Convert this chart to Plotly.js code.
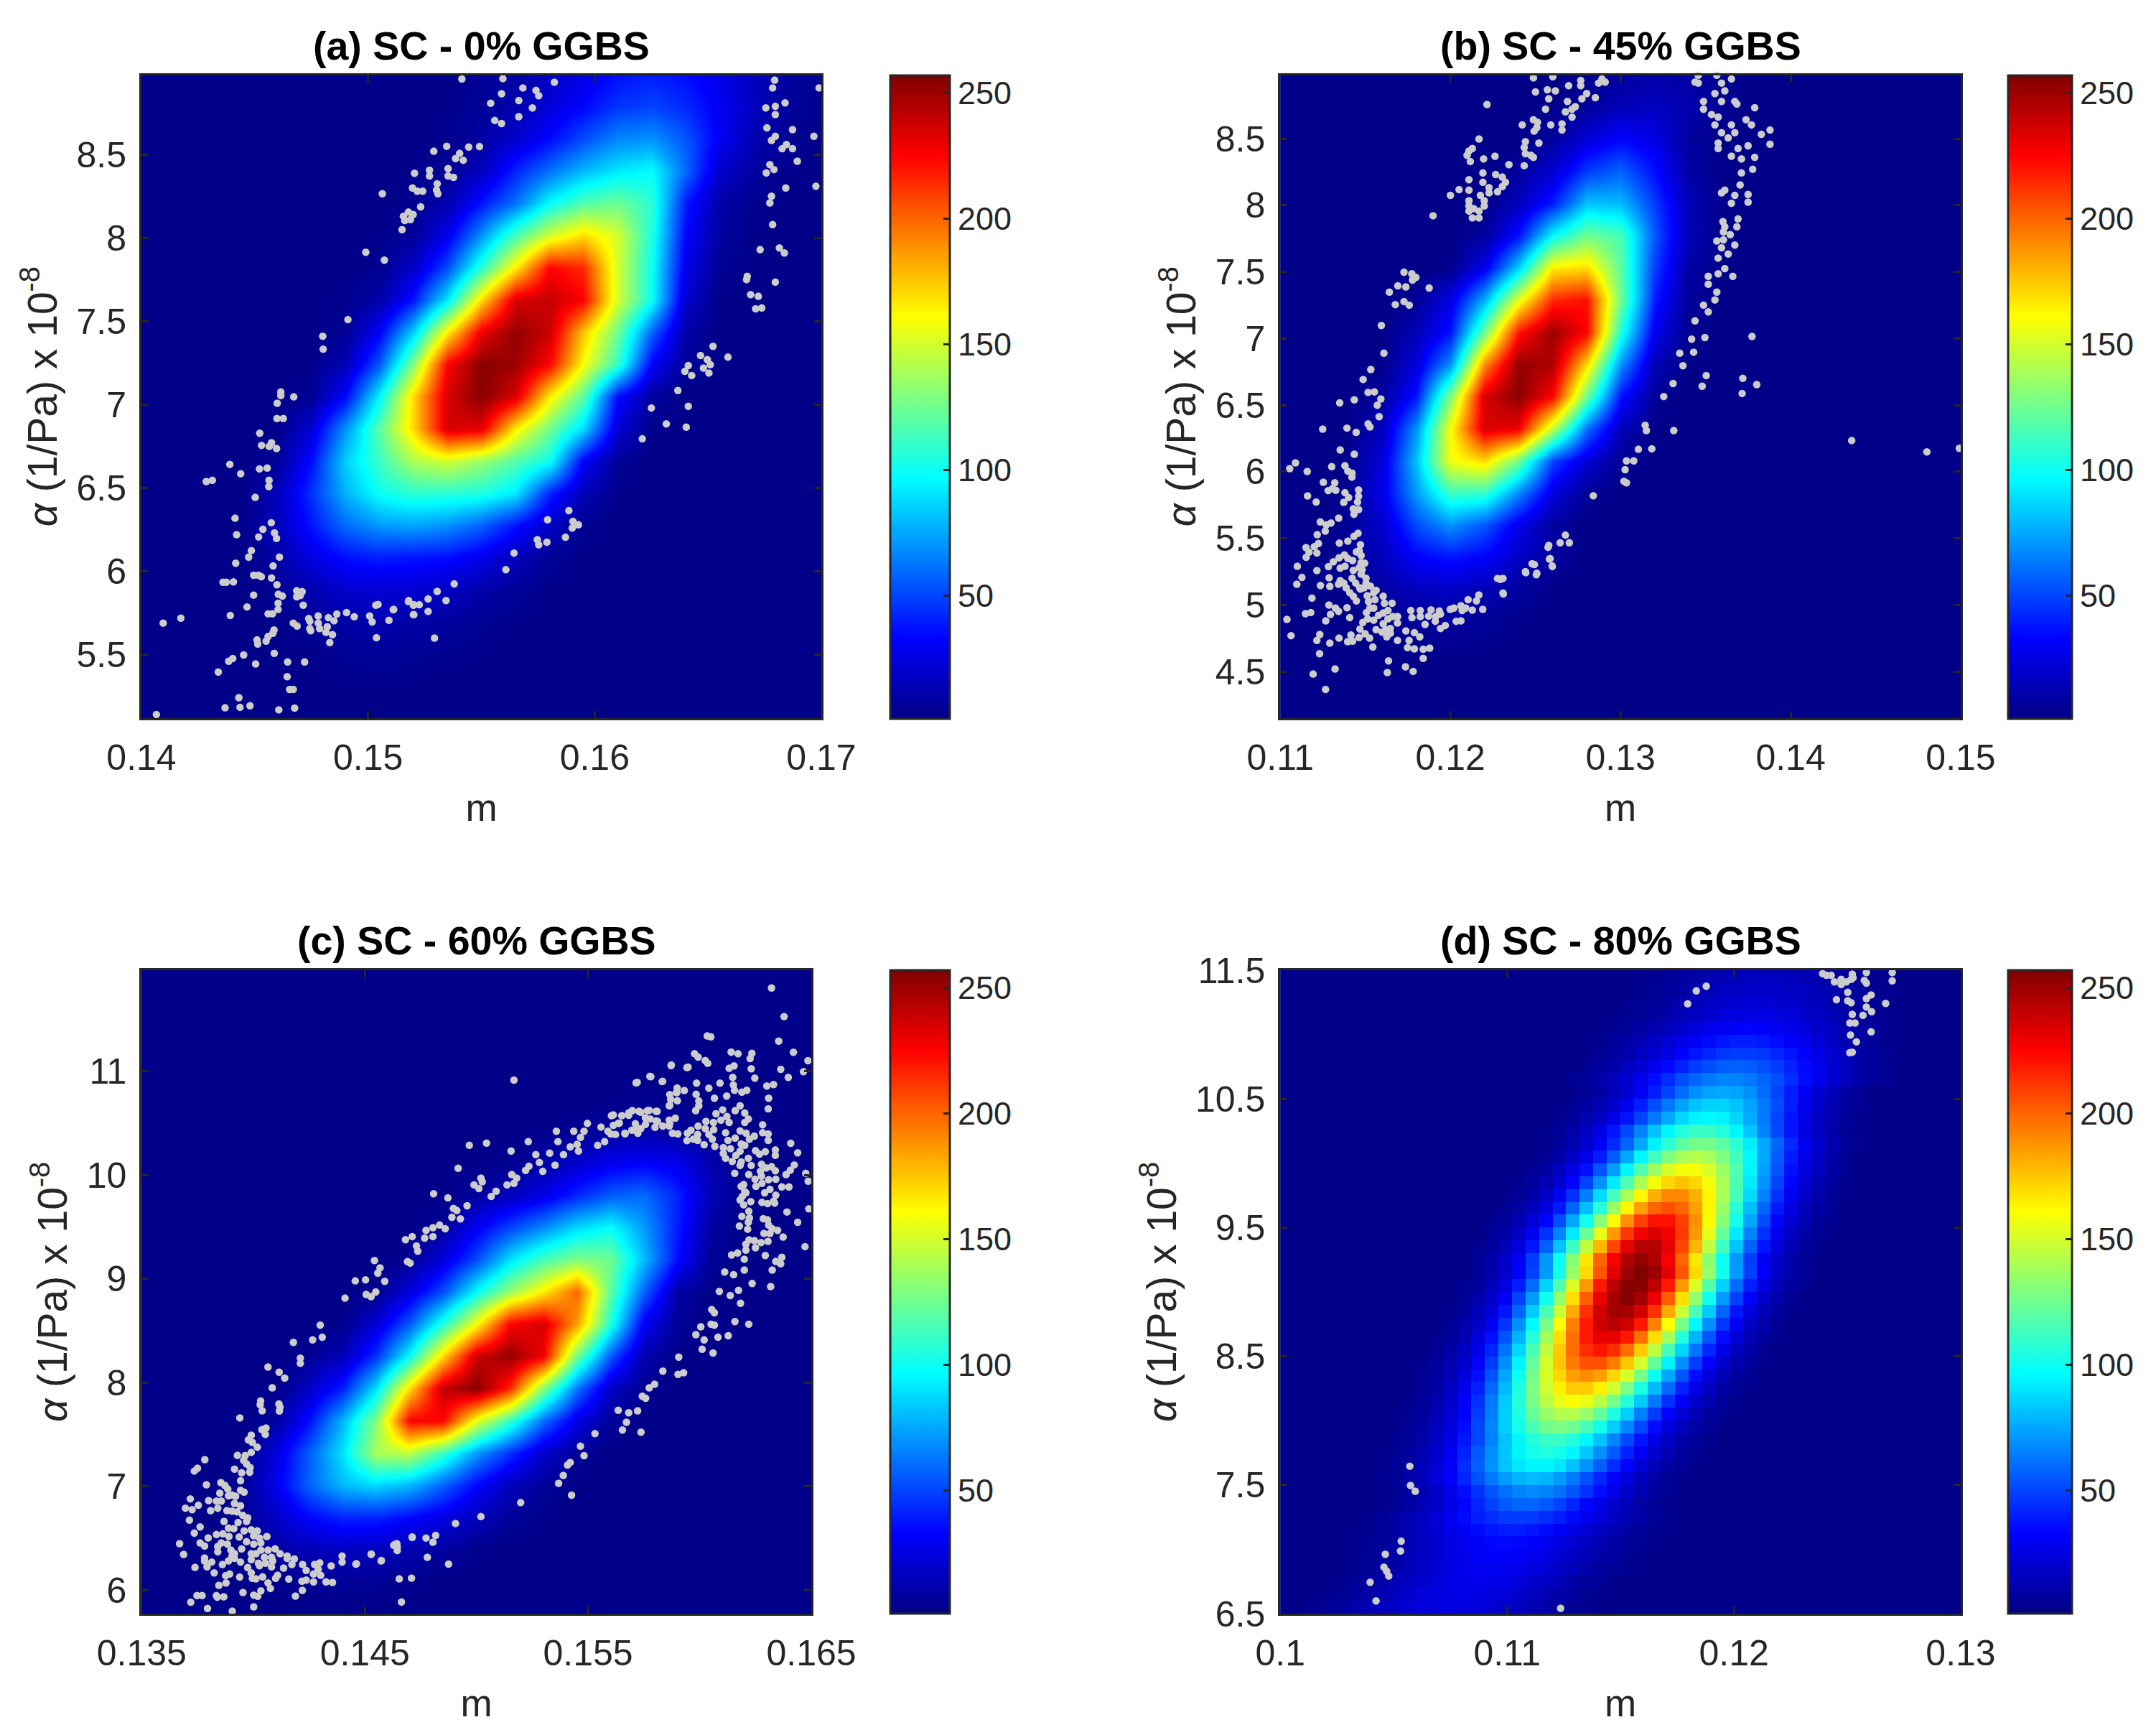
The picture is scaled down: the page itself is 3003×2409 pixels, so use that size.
<!DOCTYPE html>
<html><head><meta charset="utf-8">
<script src="https://cdn.plot.ly/plotly-3.0.1.min.js"></script>
<style>html,body{margin:0;padding:0;background:#fff}#chart{width:3003px;height:2409px}</style>
</head><body><div id="chart"></div>
<script>
// Density values, rows listed top to bottom.
const heatA=[
[2,2,2,2,2,2,2,2,2,2,5,9,17,26,36,40,36,27,15,8,4],
[2,2,2,2,2,2,2,2,2,3,6,12,23,34,46,50,43,30,16,7,3],
[2,2,2,2,2,2,2,2,2,4,9,20,35,52,67,70,55,30,13,5,2],
[2,2,2,2,2,2,2,2,3,6,16,42,62,80,92,98,60,20,8,3,2],
[2,2,2,2,2,2,2,2,4,12,38,62,98,118,125,108,40,10,4,2,2],
[2,2,2,2,2,2,2,3,7,28,70,115,150,170,150,105,34,8,3,2,2],
[2,2,2,2,2,2,2,4,18,52,108,165,225,215,150,100,28,5,2,2,2],
[2,2,2,2,2,2,4,10,38,92,170,235,240,225,150,100,20,3,2,2,2],
[2,2,2,2,2,2,5,32,85,165,230,252,238,175,125,58,10,2,2,2,2],
[2,2,2,2,2,3,14,55,130,225,255,250,224,160,110,32,6,2,2,2,2],
[2,2,2,2,2,5,34,95,170,235,255,235,165,120,36,8,2,2,2,2,2],
[2,2,2,2,3,22,70,120,170,235,232,165,125,88,22,3,2,2,2,2,2],
[2,2,2,2,6,36,85,112,140,150,135,118,100,32,6,2,2,2,2,2,2],
[2,2,2,2,16,45,78,100,108,108,105,92,42,14,3,2,2,2,2,2,2],
[2,2,2,3,16,38,60,72,75,70,58,38,18,5,2,2,2,2,2,2,2],
[2,2,2,2,10,25,36,40,38,36,28,15,6,2,2,2,2,2,2,2,2],
[2,2,2,2,5,12,20,22,21,17,11,6,3,2,2,2,2,2,2,2,2],
[2,2,2,2,3,6,10,12,10,8,5,3,2,2,2,2,2,2,2,2,2],
[2,2,2,2,2,3,5,6,5,4,3,2,2,2,2,2,2,2,2,2,2],
[2,2,2,2,2,2,3,3,3,2,2,2,2,2,2,2,2,2,2,2,2],
[2,2,2,2,2,2,2,2,2,2,2,2,2,2,2,2,2,2,2,2,2]];
const heatB=[
[2,2,2,2,2,2,2,2,2,4,8,10,8,4,2,2,2,2,2,2,2],
[2,2,2,2,2,2,2,2,3,7,14,17,12,5,2,2,2,2,2,2,2],
[2,2,2,2,2,2,2,2,8,22,34,26,8,2,2,2,2,2,2,2,2],
[2,2,2,2,2,2,2,8,20,48,58,36,10,2,2,2,2,2,2,2,2],
[2,2,2,2,2,2,3,15,40,82,80,48,14,3,2,2,2,2,2,2,2],
[2,2,2,2,2,2,8,36,96,125,115,55,14,2,2,2,2,2,2,2,2],
[2,2,2,2,2,3,28,85,165,170,120,48,10,2,2,2,2,2,2,2,2],
[2,2,2,2,6,26,78,155,215,222,125,40,6,2,2,2,2,2,2,2,2],
[2,2,2,2,14,38,125,220,250,225,105,28,4,2,2,2,2,2,2,2,2],
[2,2,2,3,24,70,190,252,245,170,70,14,2,2,2,2,2,2,2,2,2],
[2,2,2,8,38,130,235,255,225,125,38,6,2,2,2,2,2,2,2,2,2],
[2,2,2,16,70,160,235,228,145,62,15,2,2,2,2,2,2,2,2,2,2],
[2,2,3,24,82,158,170,125,50,22,5,2,2,2,2,2,2,2,2,2,2],
[2,2,4,28,72,112,110,68,25,6,2,2,2,2,2,2,2,2,2,2,2],
[2,2,6,20,52,70,55,28,8,2,2,2,2,2,2,2,2,2,2,2,2],
[2,2,5,16,32,38,32,18,8,2,2,2,2,2,2,2,2,2,2,2,2],
[2,2,3,9,15,18,14,8,3,2,2,2,2,2,2,2,2,2,2,2,2],
[2,2,2,4,7,8,6,3,2,2,2,2,2,2,2,2,2,2,2,2,2],
[2,2,2,2,3,3,3,2,2,2,2,2,2,2,2,2,2,2,2,2,2],
[2,2,2,2,2,2,2,2,2,2,2,2,2,2,2,2,2,2,2,2,2],
[2,2,2,2,2,2,2,2,2,2,2,2,2,2,2,2,2,2,2,2,2]];
const heatC=[
[2,2,2,2,2,2,2,2,2,2,2,2,2,2,2,2,2,2,2,2,2],
[2,2,2,2,2,2,2,2,2,2,2,2,2,2,2,2,2,2,2,2,2],
[2,2,2,2,2,2,2,2,2,2,2,2,2,2,2,2,2,2,2,2,2],
[2,2,2,2,2,2,2,2,2,2,2,2,2,2,2,2,2,2,2,2,2],
[2,2,2,2,2,2,2,2,2,2,2,2,2,2,3,4,3,2,2,2,2],
[2,2,2,2,2,2,2,2,2,2,2,2,3,5,8,10,8,4,2,2,2],
[2,2,2,2,2,2,2,2,2,2,2,4,10,20,28,32,28,12,3,2,2],
[2,2,2,2,2,2,2,2,2,2,8,16,26,42,56,60,42,14,3,2,2],
[2,2,2,2,2,2,2,2,2,7,30,50,68,88,98,72,40,9,2,2,2],
[2,2,2,2,2,2,2,2,5,24,52,90,115,130,125,80,36,6,2,2,2],
[2,2,2,2,2,2,2,3,24,52,98,135,165,200,120,58,10,2,2,2,2],
[2,2,2,2,2,2,3,22,55,105,160,225,235,185,105,30,6,2,2,2,2],
[2,2,2,2,2,5,14,45,98,170,238,252,228,125,55,12,2,2,2,2,2],
[2,2,2,2,2,18,40,90,170,240,255,215,130,62,18,4,2,2,2,2,2],
[2,2,2,2,8,36,78,130,225,225,155,110,60,26,6,2,2,2,2,2,2],
[2,2,2,2,24,56,90,140,145,112,72,45,20,6,2,2,2,2,2,2,2],
[2,2,2,4,28,58,80,88,80,58,34,16,6,2,2,2,2,2,2,2,2],
[2,2,2,5,18,34,42,42,35,26,15,7,3,2,2,2,2,2,2,2,2],
[2,2,2,3,9,14,17,16,12,8,4,2,2,2,2,2,2,2,2,2,2],
[2,2,2,2,3,5,6,5,4,2,2,2,2,2,2,2,2,2,2,2,2],
[2,2,2,2,2,2,2,2,2,2,2,2,2,2,2,2,2,2,2,2,2]];
// Panel (d) has coarse cells: each row lists its non-background run and where it starts.
const heatDStart=[24,24,23,23,23,22,22,22,21,20,19,19,18,18,18,17,17,16,16,15,15,14,14,14,13,13,12,12,11,11,10,10,9,9,8,8,7,7,6,6,6,5,6,5,5,4,4,3,2,1];
const heatDRuns=[
[2,2,3,4,6,8,10,12,13,15,16,16,16,15,13,12,10,8,6,4,3,2,2],
[2,3,4,5,7,9,12,14,16,17,19,19,19,17,16,14,12,9,7,5,4,3,2],
[2,2,4,5,7,9,12,15,17,19,21,22,22,21,19,17,15,12,9,7,5,4,2,2],
[2,3,4,6,8,11,14,17,20,23,25,26,26,25,23,20,17,14,11,8,6,4,3,2],
[3,4,7,9,12,16,20,24,28,30,32,33,32,30,28,24,20,16,12,9,7,4,3],
[3,4,7,9,13,17,22,27,31,35,38,40,40,38,35,31,27,22,17,13,9,7,4,3],
[3,5,8,11,16,21,26,32,38,42,46,48,48,46,42,38,32,26,21,16,11,8,5,3],
[5,8,11,16,21,28,35,41,48,52,56,57,56,52,48,41,35,28,21,16,11,8,5],
[5,7,11,16,21,28,36,44,52,58,63,66,66,63,58,52,44,36,28,21,16,11,7,5],
[2,3,6,9,15,21,30,40,50,60,69,74,76,74,69,60,50,40,30,21,15,9,6,3,2],
[2,3,5,8,13,20,29,40,52,63,74,82,86,86,82,74,63,52,40,29,20,13,8,5,3,2],
[2,4,7,12,18,27,38,50,63,76,87,94,96,94,87,76,63,50,38,27,18,12,7,4,2],
[2,4,6,11,17,26,38,51,66,82,95,106,111,111,106,95,82,66,51,38,26,17,11,6,4,2],
[2,4,7,12,20,30,43,58,75,93,108,120,126,126,120,108,93,75,58,43,30,20,12,7,4,2],
[3,6,11,18,27,40,56,75,95,113,129,139,143,139,129,113,95,75,56,40,27,18,11,6,3],
[3,5,9,16,25,37,54,73,95,117,136,151,159,159,151,136,117,95,73,54,37,25,16,9,5,3],
[4,8,13,22,34,50,70,92,116,140,159,171,176,171,159,140,116,92,70,50,34,22,13,8,4],
[3,6,11,19,30,45,65,88,114,140,163,181,191,191,181,163,140,114,88,65,45,30,19,11,6,3],
[5,9,15,25,39,58,81,107,136,163,185,200,205,200,185,163,136,107,81,58,39,25,15,9,5],
[4,7,13,22,34,52,75,102,132,162,189,209,221,221,209,189,162,132,102,75,52,34,22,13,7,4],
[6,10,18,29,45,66,92,123,155,186,211,228,234,228,211,186,155,123,92,66,45,29,18,10,6],
[4,8,14,24,38,57,82,112,145,179,208,231,244,244,231,208,179,145,112,82,57,38,24,14,8,4],
[6,11,19,31,48,71,100,132,167,200,227,245,252,245,227,200,167,132,100,71,48,31,19,11,6],
[6,11,19,32,49,72,102,135,170,204,232,250,257,250,232,204,170,135,102,72,49,32,19,11,6],
[5,8,15,25,40,60,86,118,152,187,219,242,255,255,242,219,187,152,118,86,60,40,25,15,8,5],
[6,11,19,31,49,72,101,134,169,202,230,248,255,248,230,202,169,134,101,72,49,31,19,11,6],
[4,8,14,24,38,58,84,115,148,182,213,236,248,248,236,213,182,148,115,84,58,38,24,14,8,4],
[6,11,18,30,46,69,96,127,161,193,219,237,243,237,219,193,161,127,96,69,46,30,18,11,6],
[4,8,13,23,36,54,78,106,138,169,197,219,231,231,219,197,169,138,106,78,54,36,23,13,8,4],
[5,10,16,27,42,62,87,115,145,174,198,214,220,214,198,174,145,115,87,62,42,27,16,10,5],
[4,7,12,20,32,48,69,94,122,150,175,194,205,205,194,175,150,122,94,69,48,32,20,12,7,4],
[5,8,14,23,36,54,75,100,126,151,171,185,190,185,171,151,126,100,75,54,36,23,14,8,5],
[3,6,10,17,27,41,59,80,104,128,149,165,174,174,165,149,128,104,80,59,41,27,17,10,6,3],
[4,7,12,20,31,45,63,84,106,127,144,156,160,156,144,127,106,84,63,45,31,20,12,7,4],
[3,5,8,14,22,33,48,65,85,104,122,135,142,142,135,122,104,85,65,48,33,22,14,8,5,3],
[3,6,10,16,24,36,51,67,85,102,115,125,128,125,115,102,85,67,51,36,24,16,10,6,3],
[2,4,6,11,17,26,38,51,66,82,95,106,111,111,106,95,82,66,51,38,26,17,11,6,4,2],
[3,5,8,13,20,30,41,55,69,83,95,102,105,102,95,83,69,55,41,30,20,13,8,5,3],
[2,3,6,9,15,22,32,44,57,70,82,91,95,95,91,82,70,57,44,32,22,15,9,6,3,2],
[2,4,6,10,15,23,32,42,53,63,72,78,80,78,72,63,53,42,32,23,15,10,6,4,2],
[2,3,5,8,13,19,27,36,45,54,61,66,68,66,61,54,45,36,27,19,13,8,5,3,2],
[2,2,3,6,9,14,19,27,34,42,49,55,58,58,55,49,42,34,27,19,14,9,6,3,2,2],
[4,6,10,13,18,23,29,35,40,44,47,48,47,44,40,35,29,23,18,13,10,6,4],
[3,4,7,9,13,17,22,27,31,35,38,40,40,38,35,31,27,22,17,13,9,7,4,3],
[3,5,7,10,13,17,21,25,29,32,34,35,34,32,29,25,21,17,13,10,7,5,3],
[2,4,5,8,10,14,17,21,25,28,31,32,32,31,28,25,21,17,14,10,8,5,4,2],
[3,4,6,8,11,15,18,22,25,28,29,30,29,28,25,22,18,15,11,8,6,4,3],
[2,4,6,8,10,14,17,20,23,26,27,28,27,26,23,20,17,14,10,8,6,4,2],
[2,4,5,8,10,13,16,20,23,25,26,27,26,25,23,20,16,13,10,8,5,4,2],
[2,4,5,7,10,13,16,19,22,24,25,26,25,24,22,19,16,13,10,7,5,4,2]];

// Scatter dots: [m, alpha].
const dotsA=[[.16794,8.947],[.1699,8.98],[.1699,8.9],[.16785,8.9],[.1684,8.81],[.16797,8.79],[.16755,8.78],[.16797,8.74],[.1676,8.66],[.16873,8.65],[.16797,8.61],[.16967,8.61],[.1678,8.585],[.16846,8.56],[.16827,8.535],[.16873,8.535],[.16894,8.46],[.16773,8.44],[.16791,8.41],[.16757,8.39],[.16843,8.3],[.16976,8.31],[.1678,8.25],[.16773,8.21],[.16785,8.08],[.16815,7.94],[.16837,7.91],[.1673,7.93],[.16797,7.735],[.16673,7.77],[.1667,7.75],[.16688,7.66],[.16722,7.65],[.1671,7.575],[.16737,7.58],
[.16522,7.35],[.16588,7.285],[.16467,7.295],[.16497,7.27],[.16413,7.235],[.16398,7.2],[.1648,7.22],[.1651,7.24],[.16504,7.19],[.16428,7.175],[.16367,7.085],[.16413,6.99],[.1625,6.98],[.16316,6.885],[.16404,6.865],[.1621,6.795],
[.15886,6.365],[.15792,6.31],[.15904,6.3],[.15928,6.28],[.15901,6.26],[.15871,6.205],[.15747,6.19],[.15753,6.16],[.15789,6.175],[.15644,6.11],[.15608,6.01],
[.1538,5.925],[.15305,5.88],[.15265,5.835],[.15344,5.825],[.15178,5.82],[.15202,5.8],[.15226,5.8],[.15111,5.77],[.15265,5.76],[.15202,5.74],[.15293,5.6],
[.14615,7.076],[.14615,7.055],[.14672,7.047],[.14599,7.009],[.14598,6.917],[.14626,6.917],[.14522,6.829],[.1453,6.756],[.14574,6.772],[.14564,6.75],[.14596,6.737],[.1439,6.642],[.14438,6.586],[.14521,6.615],[.14555,6.62],[.14286,6.539],[.14313,6.547],[.14563,6.547],[.14562,6.509],[.14502,6.444],[.14413,6.319],[.14573,6.292],[.14536,6.253],[.1442,6.22],[.14587,6.231],[.14517,6.207],[.14596,6.198],[.14485,6.125],[.14473,6.086],[.14609,6.086],[.14416,6.049],[.14581,6.033],[.14495,5.977],[.14516,5.977],[.14529,5.968],[.14574,5.961],[.1436,5.935],[.14374,5.935],[.14406,5.937],[.14598,5.92],[.14685,5.884],[.14709,5.879],[.14685,5.848],[.14701,5.855],[.14604,5.863],[.14622,5.852],[.14495,5.858],[.14603,5.809],[.14714,5.797],[.14466,5.787],[.14603,5.772],[.14559,5.746],[.14578,5.746],[.14392,5.736],[.1478,5.733],[.14738,5.718],[.14743,5.701],[.14825,5.723],[.14862,5.744],[.1485,5.704],[.14905,5.753],[.14939,5.728],[.15007,5.733],[.15018,5.697],[.15034,5.797],[.15044,5.802],[.15113,5.772],[.15092,5.707],[.15037,5.602],[.15179,5.825],[.152,5.797],[.152,5.741],[.14096,5.69],[.14174,5.72],[.1467,5.69],[.14687,5.672],[.14743,5.657],[.14747,5.644],[.1478,5.69],[.14786,5.657],[.1482,5.668],[.14814,5.635],[.14843,5.621],[.14831,5.573],[.14585,5.649],[.1458,5.629],[.14559,5.61],[.1451,5.589],[.14513,5.565],[.1455,5.582],[.14586,5.509],[.14451,5.499],[.14403,5.478],[.14385,5.461],[.14504,5.445],[.14645,5.457],[.1472,5.457],[.14339,5.397],[.14643,5.369],[.14654,5.292],[.1467,5.292],[.1443,5.243],[.14369,5.182],[.14435,5.185],[.14479,5.194],[.14606,5.17],[.14676,5.18],[.14066,5.142],[.14444,5.118],[.14725,5.118],
[.14802,7.333],[.148,7.41],[.14911,7.51],[.15072,7.867],[.1499,7.914],[.1515,8.05],[.15156,8.13],[.15178,8.155],[.15199,8.14],[.15162,8.105],[.15187,8.11],[.15232,8.187],[.15196,8.3],[.15217,8.28],[.15241,8.28],[.15308,8.265],[.15302,8.287],[.15305,8.325],[.15063,8.265],[.15205,8.388],[.15271,8.406],[.15271,8.372],[.15353,8.372],[.15377,8.363],[.15353,8.416],[.1529,8.52],[.15347,8.55],[.15386,8.476],[.15404,8.507],[.1542,8.466],[.15444,8.545],[.15492,8.548],
[.15414,8.953],[.15632,8.984],[.15595,8.956],[.15732,8.978],[.15822,8.934],[.15683,8.9],[.15589,8.865],[.15741,8.885],[.15753,8.853],[.15665,8.824],[.15541,8.808],[.15725,8.78],[.15665,8.727],[.15559,8.705],[.15589,8.686]];
const dotsB=[[.11532,6.768],[.11487,6.693],[.11516,6.596],[.11553,6.6],[.11591,6.547],[.1157,6.5],[.11349,6.517],[.11435,6.54],[.11581,6.414],[.11516,6.36],[.11527,6.337],[.11392,6.328],[.11446,6.296],[.11249,6.321],[.11352,6.164],[.11435,6.132],[.11089,6.067],[.11055,6.024],[.11158,6.003],[.11302,6.039],[.1138,6.046],[.11397,6.005],[.11422,5.99],[.11421,5.96],[.11253,5.922],[.1132,5.918],[.11326,5.861],[.11281,5.859],[.11307,5.875],[.1146,5.864],[.1146,5.816],[.11454,5.773],[.1138,5.843],[.11401,5.807],[.11373,5.771],[.1116,5.819],[.11211,5.773],[.1146,5.717],[.11429,5.722],[.11433,5.681],[.11343,5.652],[.11235,5.624],[.11298,5.616],[.1127,5.602],[.11264,5.555],[.11457,5.539],[.11433,5.516],[.11217,5.528],[.11397,5.48],[.11347,5.465],[.11471,5.453],[.11464,5.408],[.11447,5.399],[.11475,5.372],[.11224,5.462],[.112,5.438],[.11151,5.431],[.11169,5.397],[.11215,5.39],[.11152,5.358],[.11377,5.376],[.11345,5.354],[.11312,5.325],[.11397,5.349],[.11425,5.334],[.11475,5.318],[.11496,5.314],[.11464,5.282],[.11481,5.264],[.11475,5.232],[.1138,5.291],[.11352,5.277],[.11283,5.288],[.11429,5.26],[.111,5.291],[.11215,5.259],[.11127,5.207],[.11097,5.156],[.11287,5.205],[.11291,5.14],[.11236,5.147],[.11352,5.183],[.11342,5.156],[.11373,5.165],[.11387,5.129],[.11422,5.201],[.11443,5.165],[.11467,5.129],[.11504,5.201],[.11504,5.165],[.11471,5.12],[.11492,5.129],[.1153,5.142],[.11563,5.111],[.11549,5.093],[.11408,5.093],[.11429,5.066],[.11447,5.031],[.11186,5.052],[.11511,5.07],[.11518,5.027],[.11556,5.04],[.11605,5.066],[.11612,5.013],[.11657,5.013],[.11549,4.977],[.11527,4.977],[.11286,5],[.11324,4.977],[.11342,4.953],[.11392,4.98],[.11148,4.935],[.11179,4.944],[.11295,4.93],[.11039,4.892],[.11408,4.905],[.11267,4.881],
[.11506,4.944],[.11513,4.896],[.11485,4.869],[.11549,4.887],[.11577,4.923],[.11605,4.941],[.11633,4.959],[.11633,4.896],[.11661,4.914],[.11689,4.914],[.11689,4.865],[.11605,4.86],[.1162,4.815],[.11647,4.824],[.11647,4.788],[.11563,4.815],[.11598,4.797],[.11626,4.761],[.11468,4.819],[.11499,4.784],[.11525,4.752],[.11463,4.756],[.11415,4.775],[.11396,4.725],[.11425,4.729],[.11345,4.752],[.11291,4.714],[.11232,4.779],[.11215,4.734],[.11063,4.77],[.11544,4.684],[.11689,4.734],[.11738,4.806],[.11788,4.793],[.1182,4.761],[.11757,4.734],[.11748,4.68],[.11788,4.671],[.1184,4.668],[.11878,4.677],[.1184,4.6],[.11636,4.581],[.11736,4.536],[.11629,4.493],[.11781,4.502],[.11231,4.635],[.11322,4.52],[.11193,4.482],[.11266,4.366],[.11193,4.145],
[.11767,4.959],[.11823,4.959],[.11774,4.905],[.11823,4.914],[.11886,4.964],[.11872,4.917],[.11935,4.955],[.11914,4.914],[.11942,4.932],[.11851,4.854],[.11911,4.878],[.11999,4.968],[.1202,4.977],[.12062,4.995],[.12069,4.959],[.1209,4.977],[.12104,5.04],[.12167,5.075],[.12153,5.031],[.12129,4.962],[.1219,4.968],[.11942,4.824],[.1197,4.847],[.12034,4.878],[.12062,4.881],[.12294,5.192],[.12311,5.083],[.12443,5.243],[.12505,5.228],[.12494,5.304],[.12582,5.345],[.12599,5.289],[.12574,5.433],
[.11898,7.922],[.12,8.075],[.12051,8.118],[.12109,8.114],[.12109,8.035],[.12109,7.996],[.12137,7.976],[.12168,7.957],[.12109,7.957],[.12129,7.906],[.12168,7.906],[.12199,7.996],[.12199,8.035],[.12176,8.075],[.12227,8.133],[.12227,8.094],[.12277,8.102],[.12266,8.231],[.12305,8.212],[.12324,8.173],[.12305,8.141],[.12191,8.243],[.12191,8.173],[.12109,8.192],[.12109,8.408],[.12129,8.427],[.12098,8.376],[.12117,8.329],[.12195,8.349],[.12262,8.369],[.12344,8.306],[.12168,8.498],[.12215,8.757],[.12434,8.298],[.12441,8.388],[.12473,8.376],[.12488,8.361],[.12441,8.478],[.12434,8.435],[.1252,8.467],[.12422,8.604],[.12488,8.643],[.12512,8.624],[.12492,8.557],[.12508,8.584],[.1259,8.604],[.12656,8.612],[.12656,8.565],[.12715,8.663],[.12734,8.741],[.12688,8.78],[.12559,8.722],[.12578,8.8],[.12617,8.859],[.1257,8.867],[.125,8.851],[.12488,8.957],[.12602,8.965],[.12695,8.898],[.12766,8.937],[.12766,8.898],[.12801,8.839],[.12773,8.8],[.12852,8.808],[.12871,8.918],[.12891,8.949],[.12863,8.996],[.1291,8.925],[.12715,8.722],[.12676,8.702],
[.13457,8.976],[.13457,8.918],[.13438,8.925],[.13566,8.976],[.13594,8.918],[.13652,8.949],[.13691,8.996],[.13488,8.78],[.13488,8.722],[.13555,8.839],[.13613,8.859],[.13672,8.78],[.13594,8.78],[.13535,8.682],[.13574,8.663],[.13684,8.761],[.13789,8.733],[.13738,8.643],[.13555,8.604],[.13652,8.604],[.1377,8.604],[.13828,8.533],[.13879,8.565],[.13594,8.545],[.13672,8.545],[.13574,8.467],[.13633,8.506],[.1375,8.447],[.13691,8.427],[.13574,8.427],[.13652,8.369],[.13711,8.349],[.13789,8.361],[.13777,8.271],[.13711,8.243],[.13879,8.459],[.13613,8.114],[.13594,8.094],[.13703,8.153],[.13672,8.075],[.13652,8.016],[.1375,8.082],[.1375,8.024],[.13602,7.878],[.13613,7.839],[.13691,7.898],[.13684,7.839],[.13605,7.8],[.13645,7.78],[.13605,7.741],[.13566,7.733],[.13594,7.682],[.13672,7.702],[.13574,7.604],[.13633,7.635],[.13613,7.525],[.1366,7.467],[.13516,7.467],[.13574,7.486],[.13516,7.408],[.13566,7.349],[.13555,7.29],[.13488,7.251],[.13516,7.2],[.13438,7.133],[.13418,6.996],[.13496,7.008],[.13348,6.89],[.1343,6.898],[.13367,6.796],[.13309,6.663],[.13504,6.722],[.1348,6.643],[.13254,6.565],[.13719,6.702],[.13715,6.588],[.13801,6.655],[.13773,7.016],
[.13145,6.349],[.13152,6.31],[.13105,6.169],[.13184,6.173],[.13313,6.31],[.13035,6.082],[.13078,6.082],[.13027,6.016],[.1302,5.929],[.13035,5.918],[.1284,5.82],[.12676,5.525],[.12645,5.467],[.12699,5.467],[.12578,5.447],[.12586,5.349],[.1248,5.31],[.12598,5.294],[.12441,5.251],[.12508,5.239],[.12277,5.2],[.12309,5.2],[.12309,5.09],[.14359,6.235],[.14801,6.149],[.14992,6.176],
[.11594,7.098],[.11609,6.89],[.11641,7.349],[.11691,7.396],[.11727,7.498],[.11773,7.486],[.11797,7.459],[.11738,7.388],[.11777,7.439],[.11727,7.278],[.11676,7.255],[.11758,7.251],[.11875,7.38]];
const dotsC=[[.14066,8.151],[.14116,8.1],[.14141,8.043],[.14085,7.95],[.14033,7.824],[.14031,7.787],[.1404,7.729],[.14115,7.794],[.1412,7.764],[.14117,7.727],[.1394,7.66],[.14057,7.563],[.14039,7.547],[.14054,7.501],[.13991,7.494],[.13978,7.448],[.13996,7.424],[.14018,7.378],[.13991,7.328],[.13964,7.298],[.13929,7.3],[.13957,7.251],[.1397,7.217],[.13986,7.182],[.13984,7.136],[.13948,7.131],[.13916,7.166],[.13783,7.258],[.1375,7.175],[.13736,7.148],[.13943,7.055],[.1379,7.016],[.13855,7.037],[.13873,7.009],[.13886,6.975],[.1385,6.935],[.13905,6.917],[.13889,6.91],[.13921,6.905],[.13943,6.963],[.13959,6.945],[.13718,6.88],[.138,6.864],[.13835,6.859],[.13857,6.859],[.13754,6.818],[.13696,6.79],[.13726,6.776],[.13809,6.767],[.13841,6.79],[.13882,6.767],[.13916,6.836],[.13943,6.813],[.13905,6.762],[.13927,6.755],[.13953,6.721],[.13975,6.698],[.1397,6.663],[.13932,6.652],[.13869,6.663],[.13714,6.675],[.13762,6.61],[.13736,6.55],[.13889,6.599],[.13913,6.594],[.13991,6.582],[.13959,6.571],[.13937,6.513],[.14018,6.571],[.14028,6.502],[.14061,6.518],[.14002,6.525],[.13835,6.536],[.13864,6.543],[.13891,6.518],[.13798,6.504],[.1367,6.449],[.13762,6.456],[.13782,6.426],[.1397,6.467],[.14002,6.444],[.14034,6.456],[.13857,6.456],[.13841,6.421],[.13841,6.37],[.13884,6.444],[.139,6.386],[.13948,6.398],[.13916,6.352],[.13688,6.345],[.13782,6.31],[.13782,6.283],[.13814,6.271],[.13793,6.225],[.13739,6.22],[.13862,6.248],[.13889,6.283],[.13916,6.306],[.13943,6.271],[.13905,6.329],[.13991,6.352],[.14012,6.352],[.14034,6.386],[.14066,6.386],[.14098,6.398],[.1412,6.352],[.13991,6.294],[.14023,6.26],[.1405,6.317],[.14082,6.317],[.14082,6.225],[.14028,6.236],[.14055,6.26],[.14087,6.283],[.14152,6.329],[.14184,6.301],[.14173,6.248],[.14136,6.213],[.14152,6.306],[.13975,6.218],[.13991,6.167],[.13825,6.167],[.13894,6.156],[.13876,6.14],[.13939,6.126],[.13996,6.114],[.14012,6.11],[.14042,6.128],[.14109,6.144],[.141,6.114],[.14159,6.107],[.14221,6.248],[.14237,6.19],[.1427,6.156],[.14275,6.248],[.14298,6.264],[.14291,6.202],[.14302,6.144],[.14349,6.234],[.14398,6.329],[.14398,6.271],[.14462,6.255],[.14529,6.347],[.14573,6.283],[.14629,6.433],[.14643,6.449],[.14645,6.382],[.14712,6.509],[.14654,6.11],[.14709,6.117],[.14664,5.886],[.14218,6.087],[.14237,6.098],[.1427,6.08],[.14326,6.08],[.14355,6.075],[.14066,6.07],[.14077,6.017],[.1422,5.999],[.14189,5.943],[.13846,6.047],[.13878,6.07],[.13954,5.978],[.14034,5.994],[.14002,5.953],[.1402,5.941],[.13748,5.948],[.13771,5.948],[.13835,5.948],[.13839,5.932],[.13868,5.937],[.1372,5.884],[.13795,5.824],[.13906,5.798],[.14002,5.84],[.13993,5.77],[.14047,5.77],
[.1418,8.387],[.14211,8.236],[.14211,8.186],[.14266,8.412],[.14309,8.437],[.143,8.553],[.14411,8.814],[.14457,8.98],[.14503,8.99],[.14506,8.849],[.14528,8.829],[.14549,8.874],[.14543,9.176],[.14558,9.055],[.14568,9.106],[.14589,8.975],[.14682,9.377],[.14712,9.407],[.14731,9.317],[.14737,9.266],[.14691,9.166],[.14703,9.151],[.14774,9.467],[.14805,9.492],[.14835,9.518],[.14768,9.392],[.14805,9.407],[.1486,9.482],[.14808,9.819],[.14872,9.779],[.14897,9.678],[.14912,9.658],[.1489,9.593],[.14928,9.578],[.14958,9.704],[.14918,10.065],[.14968,10.286],[.15045,10.307],[.14989,9.905],[.1502,9.97],[.15026,9.935],[.15011,9.869],[.15066,9.794],[.15088,9.844],[.15137,9.905],[.15168,9.92],[.1518,9.97],[.15158,10.005],[.1522,10.045],[.15235,10.085],[.15282,10.121],[.15266,10.196],[.15328,10.211],[.15352,10.095],[.15297,10.035],[.15155,10.231],[.15232,10.322],[.15168,10.915],[.15358,10.422],[.15365,10.322],[.1539,10.196],[.1542,10.271],[.15451,10.296],[.15436,10.422],[.15482,10.422],[.15497,10.497],[.15466,10.362],[.15457,10.231],[.15574,10.322],[.15589,10.422],[.15543,10.286],[.15558,10.462],[.15605,10.572],[.15635,10.497],[.15666,10.397],[.15712,10.432],[.15682,10.598],[.15651,10.572],[.15728,10.613],[.15758,10.548],[.15805,10.522],[.15835,10.472],[.15866,10.497],[.15774,10.623],[.15805,10.613],[.15715,10.889],[.15777,10.95],[.15832,10.9],[.15866,10.673],[.15897,10.799],[.15866,10.774],[.15872,11.055],[.15943,11.035],
[.16424,11.977],[.16322,11.802],[.16378,11.526],[.16034,11.34],[.1605,11.331],[.16354,11.29],[.1642,11.182],[.16485,11.101],[.16465,10.995],[.16363,11.018],[.16397,10.94],[.16141,11.184],[.16172,11.168],[.16234,11.172],[.16226,11.122],[.15977,11.168],[.15993,11.136],[.16025,11.103],[.16036,11.076],[.15873,11.06],[.15948,11.039],[.16154,11.051],[.16132,11.028],[.16231,11.023],[.16148,10.94],[.16247,10.933],[.15781,10.947],[.1572,10.892],[.15834,10.903],[.15986,10.885],[.16091,10.885],[.16041,10.837],[.16151,10.867],[.16156,10.816],[.16189,10.798],[.16211,10.816],[.16301,10.857],[.16331,10.871],[.15899,10.839],[.15897,10.793],[.15931,10.814],[.15984,10.777],[.16066,10.74],[.16121,10.761],[.16309,10.74],[.16307,10.637],[.1587,10.729],[.159,10.715],[.15864,10.667],[.15996,10.713],[.15996,10.667],[.15982,10.621],[.16181,10.667],[.16159,10.621],[.16103,10.628],[.16202,10.598],[.16073,10.591],[.15698,10.621],[.15682,10.575],[.15736,10.605],[.15766,10.621],[.15809,10.614],[.15613,10.579],[.15757,10.552],[.15779,10.54],[.15811,10.517],[.158,10.46],[.15864,10.529],[.15891,10.547],[.15864,10.471],[.15878,10.402],[.15902,10.395],[.1564,10.501],[.15613,10.478],[.15712,10.494],[.15757,10.487],[.15736,10.448],[.15723,10.402],[.15696,10.432],[.15665,10.402],[.15623,10.391],[.15602,10.395],[.16028,10.517],[.16062,10.506],[.16095,10.529],[.16122,10.563],[.16218,10.54],[.16202,10.506],[.16132,10.506],[.15993,10.471],[.16025,10.448],[.16063,10.437],[.15961,10.432],[.15945,10.402],[.15991,10.391],[.16041,10.391],[.15972,10.345],[.15943,10.331],[.15991,10.333],[.16057,10.345],[.1602,10.292],[.16282,10.483],[.16282,10.407],[.16307,10.395],[.16307,10.333],[.16116,10.407],[.16181,10.425],[.16208,10.402],[.16245,10.375],[.16223,10.345],[.16159,10.356],[.16127,10.333],[.16068,10.276],[.16106,10.264],[.16138,10.253],[.16186,10.299],[.16202,10.287],[.16181,10.23],[.16106,10.207],[.16116,10.161],[.16408,10.306],[.16439,10.214],[.1625,10.234],[.16268,10.202],[.16294,10.225],[.16339,10.241],[.16339,10.189],[.16162,10.189],[.16146,10.131],[.16186,10.126],[.16218,10.161],[.16231,10.092],[.16181,10.092],[.16277,10.103],[.16298,10.069],[.16322,10.08],[.16339,10.041],[.16424,10.097],[.16406,10.046],[.16387,10.005],[.16475,10.016],[.16486,9.94],[.16157,10.016],[.1622,10.005],[.16272,10.034],[.16248,9.959],[.16277,9.989],[.16279,9.92],[.16309,9.954],[.16341,9.959],[.16252,9.89],[.16197,9.908],[.16186,9.89],[.16202,9.839],[.16207,9.828],[.16181,9.759],[.16197,9.713],[.16229,9.743],[.16191,9.793],[.16291,9.828],[.16315,9.862],[.16368,9.885],[.164,9.885],[.16341,9.805],[.16331,9.747],[.16279,9.736],[.16304,9.724],[.16336,9.729],[.16489,9.674],[.16391,9.644],[.1622,9.651],[.16189,9.602],[.16223,9.586],[.16218,9.545],[.16285,9.579],[.16304,9.568],[.16178,9.508],[.16215,9.478],[.16309,9.517],[.16325,9.483],[.16288,9.437],[.16315,9.437],[.16349,9.467],[.16439,9.545],[.16374,9.402],[.16221,9.375],[.16245,9.368],[.16275,9.349],[.16306,9.361],[.16207,9.333],[.16207,9.276],[.1625,9.299],[.16472,9.31],[.1617,9.248],[.16143,9.23],[.16294,9.225],[.162,9.189],[.16368,9.207],[.16341,9.168],[.16363,9.145],[.162,9.085],[.16325,9.085],
[.16112,9.065],[.16152,9.04],[.16174,8.889],[.16088,8.879],[.16235,8.955],[.16318,8.925],[.16183,8.764],[.16137,8.839],[.16066,8.673],[.16054,8.704],[.16066,8.553],[.16158,8.588],[.1622,8.563],[.16005,8.538],[.15983,8.462],[.1602,8.412],[.16051,8.563],[.16082,8.437],[.16128,8.452],[.1606,8.286],[.16011,8.322],[.15906,8.246],[.15835,8.111],[.15903,8.08],[.15928,8.095],[.15798,7.985],[.15774,7.95],[.15743,7.869],[.15758,7.849],[.15682,7.709],[.15722,7.729],[.15635,7.734],[.15654,7.543],[.15737,7.523],[.15672,7.618],[.15531,7.508],[.15466,7.387],[.15482,7.296],[.1542,7.231],[.15408,7.206],[.15389,7.106],[.15368,7.03],[.15426,6.915],[.15198,6.844],[.1502,6.709],[.14906,6.643],[.14875,6.251],[.14817,6.528],[.14774,6.503],[.14805,6.462],[.14712,6.513],[.14635,6.442],[.14645,6.417],[.1478,6.317],[.14574,6.286],[.14528,6.347],[.1446,6.251]];
const dotsD=[[.10571,7.646],[.10574,7.496],[.10595,7.451],[.10533,7.063],[.1053,6.987],[.10463,6.962],[.10457,6.861],[.10469,6.829],[.10478,6.793],[.10396,6.744],[.10422,6.599],[.11236,6.542],[.11796,11.239],[.11834,11.34],[.11878,11.376],[.12391,11.473],[.12408,11.461],[.12429,11.461],[.12443,11.409],[.12473,11.429],[.12473,11.389],[.12496,11.409],[.12517,11.429],[.12522,11.469],[.12525,11.441],[.12584,11.482],[.12698,11.482],[.12698,11.417],[.12575,11.421],[.12584,11.4],[.12452,11.271],[.12502,11.328],[.12502,11.263],[.12517,11.247],[.12584,11.28],[.12605,11.308],[.12584,11.214],[.12669,11.242],[.12522,11.157],[.12607,11.178],[.12569,11.15],[.12511,11.09],[.12534,11.09],[.12605,11.021],[.12514,10.996],[.1254,10.944],[.12511,10.859],[.12522,10.863]];

const titles=['(a) SC - 0% GGBS','(b) SC - 45% GGBS','(c) SC - 60% GGBS','(d) SC - 80% GGBS'];
const xTicks=[[.14,.15,.16,.17],[.11,.12,.13,.14,.15],[.135,.145,.155,.165],[.1,.11,.12,.13]];
const xLabels=[['0.14','0.15','0.16','0.17'],['0.11','0.12','0.13','0.14','0.15'],['0.135','0.145','0.155','0.165'],['0.1','0.11','0.12','0.13']];
const yTicks=[[5.5,6,6.5,7,7.5,8,8.5],[4.5,5,5.5,6,6.5,7,7.5,8,8.5],[6,7,8,9,10,11],[6.5,7.5,8.5,9.5,10.5,11.5]];
const yLabels=[['5.5','6','6.5','7','7.5','8','8.5'],['4.5','5','5.5','6','6.5','7','7.5','8','8.5'],['6','7','8','9','10','11'],['6.5','7.5','8.5','9.5','10.5','11.5']];
const cbTicks=[50,100,150,200,250];

const W=3003,H=2409,INK='#262626',FONT='"Liberation Sans", Arial, sans-serif';
const jet=[[0,'#000084'],[.125,'#0000ff'],[.375,'#00ffff'],[.625,'#ffff00'],[.875,'#ff0000'],[1,'#800000']];
const heatD=heatDRuns.map((run,r)=>{const row=new Array(50).fill(2);run.forEach((v,i)=>{row[heatDStart[r]+i]=v;});return row;});
const panels=[
 {z:heatA,dots:dotsA,x0:.14,dx:.0015,y0:5.12,dy:.19285,smooth:'best',xr:[.14,.17],yr:[5.12,8.977],box:[197,1144,104.5,1000],cb:[1240,83]},
 {z:heatB,dots:dotsB,x0:.11,dx:.002,y0:4.151,dy:.24135,smooth:'best',xr:[.11,.15],yr:[4.151,8.978],box:[1783.3,2731,104.5,1000],cb:[2797,89]},
 {z:heatC,dots:dotsC,x0:.135,dx:.0015,y0:5.774,dy:.30995,smooth:'best',xr:[.135,.165],yr:[5.774,11.973],box:[197.3,1130,1351,2247],cb:[1240,83]},
 {z:heatD,dots:dotsD,x0:.1003,dx:.0006,y0:6.55,dy:.1,smooth:false,xr:[.1,.13],yr:[6.5,11.5],box:[1783.3,2731,1351,2247],cb:[2797,89]}
];
const data=[],layout={width:W,height:H,margin:{l:0,r:0,t:0,b:0},paper_bgcolor:'#fff',plot_bgcolor:'#000084',showlegend:false,annotations:[],font:{family:FONT,color:INK}};
panels.forEach((p,i)=>{
 const n=i===0?'':String(i+1);
 const [L,R,T,B]=p.box;
 data.push({type:'heatmap',z:p.z.slice().reverse(),x0:p.x0,dx:p.dx,y0:p.y0,dy:p.dy,zsmooth:p.smooth,zmin:1,zmax:257,colorscale:jet,hoverinfo:'skip',xaxis:'x'+n,yaxis:'y'+n,
  colorbar:{x:p.cb[0]/W,xanchor:'left',xpad:0,ypad:0,y:1-T/H,yanchor:'top',len:(B-T)/H,lenmode:'fraction',thickness:p.cb[1],thicknessmode:'pixels',outlinewidth:3,outlinecolor:INK,borderwidth:0,ticks:'inside',ticklen:10,tickwidth:3,tickcolor:INK,tickmode:'array',tickvals:cbTicks,ticktext:cbTicks.map(String),tickfont:{family:FONT,size:45,color:INK}}});
 data.push({type:'scatter',mode:'markers',x:p.dots.map(d=>d[0]),y:p.dots.map(d=>d[1]),cliponaxis:false,hoverinfo:'skip',marker:{size:10.5,color:'#cccccc',line:{width:0}},xaxis:'x'+n,yaxis:'y'+n});
 const common={showline:true,linewidth:3,linecolor:INK,mirror:'ticks',ticks:'inside',ticklen:10,tickwidth:3,tickcolor:INK,showgrid:false,zeroline:false,tickfont:{family:FONT,size:50,color:INK},tickmode:'array',automargin:false};
 layout['xaxis'+n]=Object.assign({},common,{domain:[L/W,R/W],range:p.xr,anchor:'y'+n,tickvals:xTicks[i],ticktext:xLabels[i],ticklabelstandoff:9,title:{text:'m',font:{family:FONT,size:53,color:INK},standoff:24}});
 layout['yaxis'+n]=Object.assign({},common,{domain:[1-B/H,1-T/H],range:p.yr,anchor:'x'+n,tickvals:yTicks[i],ticktext:yLabels[i],ticklabelstandoff:8,title:{text:'<i>α</i> (1/Pa) x 10<sup>-8</sup>',font:{family:FONT,size:57,color:INK},standoff:9}});
 layout.annotations.push({xref:'paper',yref:'paper',x:(L+R)/2/W,y:1-(T-41)/H,xanchor:'center',yanchor:'middle',showarrow:false,text:'<b>'+titles[i]+'</b>',font:{family:FONT,size:55.5,color:'#000'}});
});
Plotly.newPlot('chart',data,layout,{staticPlot:true,displayModeBar:false});
</script></body></html>
